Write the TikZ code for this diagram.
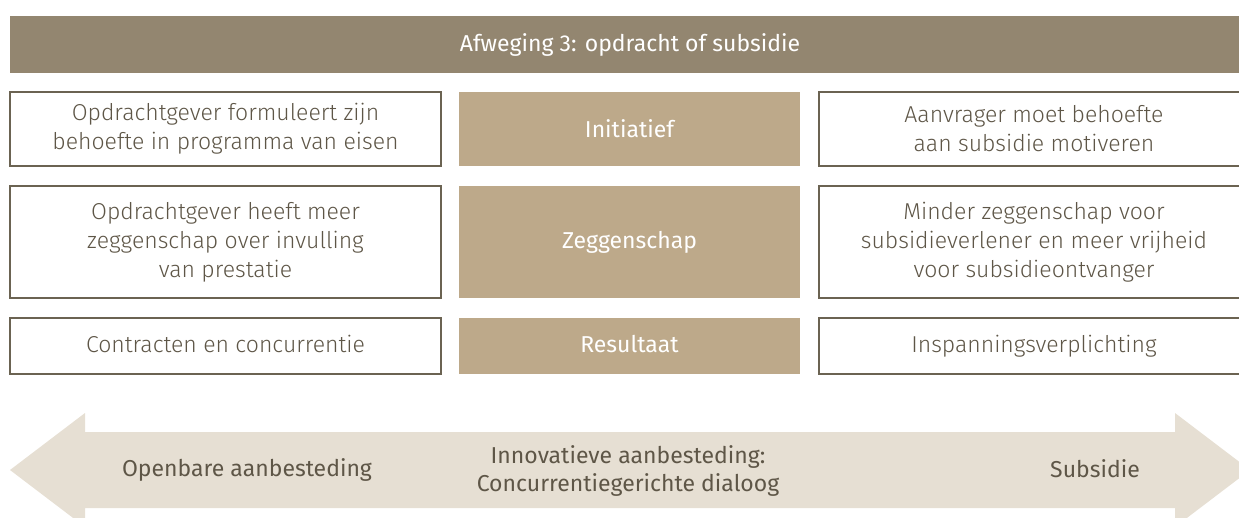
\documentclass[tikz,border=0pt]{standalone}
\usepackage{fontspec}
\setmainfont{Fira Sans}
\newfontfamily\lightfont{Fira Sans}[UprightFont={* Light}]
\definecolor{bar}{RGB}{147,134,112}
\definecolor{tan}{RGB}{189,169,138}
\definecolor{pale}{RGB}{230,223,211}
\definecolor{ink}{RGB}{94,86,71}
\definecolor{edge}{RGB}{107,99,82}

\begin{document}
\begin{tikzpicture}[x=1pt, y=-1pt,
block/.style = {rectangle, draw=edge, line width=1.3pt, fill=white, text=ink, align=center,
  inner sep=0pt, font=\lightfont\fontsize{23}{29}\selectfont},
key/.style = {rectangle, fill=tan, text=white, inner sep=0pt, minimum width=341pt,
  font=\fontsize{23}{29}\selectfont},
tag/.style = {text=ink, align=center, inner sep=0pt, font=\fontsize{23}{28}\selectfont}]
\useasboundingbox (0,0) rectangle (1239,517);

\node[rectangle, fill=bar, text=white, minimum width=1240pt, minimum height=57pt,
  font=\fontsize{23}{29}\selectfont] at (630,44.5) (head) {Afweging 3: opdracht of subsidie};

% rows: left = opdracht, middle = criterium, right = subsidie
\node[block, minimum width=431pt, minimum height=74pt] at (225.5,129) (o1)
  {Opdrachtgever formuleert zijn\\behoefte in programma van eisen};
\node[key, minimum height=74pt] at (629.5,129) (k1) {Initiatief};
\node[block, minimum width=430pt, minimum height=74pt] at (1034,129) (s1)
  {Aanvrager moet behoefte\\aan subsidie motiveren};

\node[block, minimum width=431pt, minimum height=112pt] at (225.5,242) (o2)
  {Opdrachtgever heeft meer\\zeggenschap over invulling\\van prestatie};
\node[key, minimum height=112pt] at (629.5,242) (k2) {Zeggenschap};
\node[block, minimum width=430pt, minimum height=112pt] at (1034,242) (s2)
  {Minder zeggenschap voor\\subsidieverlener en meer vrijheid\\voor subsidieontvanger};

\node[block, minimum width=431pt, minimum height=56pt] at (225.5,346) (o3)
  {Contracten en concurrentie\vphantom{g}};
\node[key, minimum height=56pt] at (629.5,346) (k3) {Resultaat\vphantom{g}};
\node[block, minimum width=430pt, minimum height=56pt] at (1034,346) (s3)
  {Inspanningsverplichting};

% the scale underneath
\fill[pale] (10,470) -- (85,413) -- (85,432) -- (1175,432) -- (1175,413) -- (1250,470)
  -- (1175,527) -- (1175,508) -- (85,508) -- (85,527) -- cycle;
\node[tag] at (247,470) (open) {Openbare aanbesteding};
\node[tag] at (628,471) (dialoog) {Innovatieve aanbesteding:\\Concurrentiegerichte dialoog};
\node[tag] at (1095,469) (sub) {Subsidie};
\end{tikzpicture}
\end{document}
